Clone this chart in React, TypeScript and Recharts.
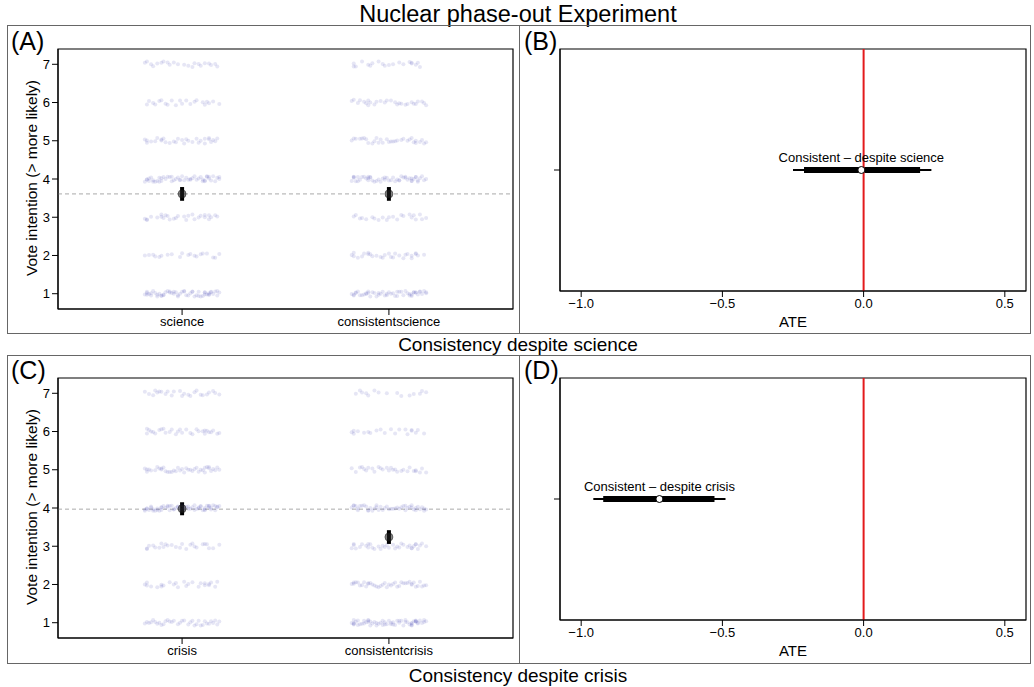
import React from "react";
import {
	ScatterChart,
	Scatter,
	XAxis,
	YAxis,
	ErrorBar,
	ReferenceLine,
	ReferenceArea,
	LabelList,
} from "recharts";

// response levels on the 1..7 vote-intention scale
const LEVELS = [1, 2, 3, 4, 5, 6, 7];

// respondents per level (1..7) for each treatment arm
const SCIENCE_COUNTS = [55, 20, 28, 50, 30, 22, 22];
const CONSISTENT_SCIENCE_COUNTS = [50, 28, 22, 50, 32, 28, 20];
const CRISIS_COUNTS = [35, 25, 25, 60, 40, 30, 25];
const CONSISTENT_CRISIS_COUNTS = [60, 40, 35, 45, 28, 20, 15];

const SCIENCE_LABELS = ["science", "consistentscience"];
const CRISIS_LABELS = ["crisis", "consistentcrisis"];

// group means with 95% intervals
const SCIENCE_MEANS = [3.61, 3.61];
const SCIENCE_LO = [3.43, 3.43];
const SCIENCE_HI = [3.79, 3.79];
const SCIENCE_GRAND = 3.61;

const CRISIS_MEANS = [3.98, 3.24];
const CRISIS_LO = [3.81, 3.06];
const CRISIS_HI = [4.15, 3.42];
const CRISIS_GRAND = 3.97;

// average treatment effects
const ATE_SCIENCE = { name: "Consistent \u2013 despite science", est: -0.008, lo90: -0.211, hi90: 0.2, lo95: -0.25, hi95: 0.24 };
const ATE_CRISIS = { name: "Consistent \u2013 despite crisis", est: -0.723, lo90: -0.922, hi90: -0.528, lo95: -0.957, hi95: -0.489 };

const ATE_TICKS = [-1, -0.5, 0, 0.5];

// fixed jitter offsets (category units / scale units)
const JITTER_X = [
	-0.17, 0.05, -0.09, 0.14, -0.02, 0.11, -0.15, 0.08, -0.06, 0.17, -0.12, 0.01, 0.13, -0.04,
	0.09, -0.18, 0.03, -0.1, 0.16, -0.07, 0.06, -0.14, 0.12, -0.01, 0.18, -0.11, 0.04, -0.16,
	0.1, -0.05, 0.15, -0.13, 0.0, 0.07, -0.08, 0.02, -0.03, 0.13, -0.17, 0.11, -0.1,
];
const JITTER_Y = [
	0.02, -0.05, 0.06, -0.01, 0.04, -0.07, 0.0, 0.05, -0.03, 0.07, -0.06, 0.01, -0.02, 0.03,
	-0.04, 0.06, -0.07, 0.02, 0.05, -0.05, 0.0, 0.04, -0.03, 0.07, -0.01, 0.03, -0.06, 0.01,
	-0.04, 0.05, -0.02,
];

const FONT = "'Liberation Sans', Arial, Helvetica, sans-serif";

function buildPoints(counts: number[][]) {
	const pts: { x: number; y: number }[] = [];
	let idx = 0;
	counts.forEach((row, g) => {
		row.forEach((n, li) => {
			for (let k = 0; k < n; k++) {
				pts.push({
					x: g + 1 + JITTER_X[idx % JITTER_X.length],
					y: LEVELS[li] + JITTER_Y[(idx * 7 + g * 5) % JITTER_Y.length],
				});
				idx++;
			}
		});
	});
	return pts;
}

const dot = (p: any) => (
	<circle cx={p.cx} cy={p.cy} r={2} fill="#4b4bb8" fillOpacity={0.14} />
);
// semi-transparent so the interval bar underneath reads through
const meanDot = (p: any) => (
	<circle cx={p.cx} cy={p.cy} r={4} fill="#222" fillOpacity={0.55} stroke="#111" strokeOpacity={0.5} strokeWidth={1} />
);
const ateDot = (p: any) => (
	<circle cx={p.cx} cy={p.cy} r={3.5} fill="#fff" stroke="#000" strokeWidth={1} />
);
const noDot = () => <g />;

const ateLabel = (p: any) => (
	<text
		x={p.x + p.width / 2}
		y={p.y - 3}
		textAnchor="middle"
		fontSize={13}
		fill="#000"
		fontFamily={FONT}
	>
		{p.value}
	</text>
);

type GroupProps = {
	left: number;
	top: number;
	counts: number[][];
	labels: string[];
	means: number[];
	lo: number[];
	hi: number[];
	grand: number;
};

function GroupPanel({ left, top, counts, labels, means, lo, hi, grand }: GroupProps) {
	const points = buildPoints(counts);
	const meanData = means.map((m, i) => ({ x: i + 1, y: m, err: [m - lo[i], hi[i] - m] }));
	return (
		<div style={{ position: "absolute", left, top }}>
			<ScatterChart width={510} height={308} margin={{ top: 23, right: 5, bottom: 0, left: 0 }}>
				<XAxis
					type="number"
					dataKey="x"
					domain={[0.4, 2.6]}
					ticks={[1, 2]}
					interval={0}
					tickFormatter={(v) => labels[v - 1]}
					height={25}
					stroke="#000"
					tick={{ fill: "#000", fontSize: 13 }}
					allowDataOverflow
				/>
				<YAxis
					type="number"
					dataKey="y"
					domain={[0.6, 7.4]}
					ticks={LEVELS}
					interval={0}
					width={50}
					stroke="#000"
					tick={{ fill: "#000", fontSize: 13 }}
					allowDataOverflow
				/>
				<ReferenceArea x1={0.4} x2={2.6} y1={0.6} y2={7.4} fill="none" stroke="#000" strokeWidth={1.2} ifOverflow="visible" />
				<Scatter data={points} shape={dot} isAnimationActive={false} />
				<ReferenceLine y={grand} stroke="#aaa" strokeDasharray="4 3" />
				<Scatter data={meanData} shape={meanDot} isAnimationActive={false}>
					<ErrorBar dataKey="err" direction="y" width={0} stroke="#000" strokeWidth={4} />
				</Scatter>
			</ScatterChart>
		</div>
	);
}

type AteProps = {
	left: number;
	top: number;
	ate: typeof ATE_SCIENCE;
};

function AtePanel({ left, top, ate }: AteProps) {
	const row = {
		x: ate.est,
		y: 1,
		name: ate.name,
		e95: [ate.est - ate.lo95, ate.hi95 - ate.est],
		e90: [ate.est - ate.lo90, ate.hi90 - ate.est],
	};
	return (
		<div style={{ position: "absolute", left, top }}>
			<ScatterChart width={510} height={308} margin={{ top: 23, right: 4, bottom: 0, left: 0 }}>
				<XAxis
					type="number"
					dataKey="x"
					domain={[-1.075, 0.575]}
					ticks={ATE_TICKS}
					interval={0}
					tickFormatter={(v) => v.toFixed(1).replace("-", "\u2212")}
					height={43}
					stroke="#000"
					tick={{ fill: "#000", fontSize: 13 }}
					allowDataOverflow
				/>
				<YAxis
					type="number"
					dataKey="y"
					domain={[0, 2]}
					ticks={[1]}
					tickFormatter={() => ""}
					width={40}
					stroke="#000"
					allowDataOverflow
				/>
				<ReferenceArea x1={-1.075} x2={0.575} y1={0} y2={2} fill="none" stroke="#000" strokeWidth={1.2} ifOverflow="visible" />
				<Scatter data={[row]} shape={noDot} isAnimationActive={false}>
					<ErrorBar dataKey="e95" direction="x" width={0} stroke="#000" strokeWidth={2} />
					<ErrorBar dataKey="e90" direction="x" width={0} stroke="#000" strokeWidth={6} />
				</Scatter>
				<Scatter data={[row]} shape={ateDot} isAnimationActive={false}>
					<LabelList dataKey="name" content={ateLabel} />
				</Scatter>
				<ReferenceLine x={0} stroke="#e31a1c" strokeWidth={2} />
			</ScatterChart>
		</div>
	);
}

const text = (s: React.CSSProperties): React.CSSProperties => ({
	position: "absolute",
	whiteSpace: "nowrap",
	color: "#000",
	lineHeight: 1,
	...s,
});

function YLabel({ cy }: { cy: number }) {
	return (
		<div
			style={text({
				left: 32,
				top: cy,
				fontSize: 15.5,
				transform: "translate(-50%, -50%) rotate(-90deg)",
			})}
		>
			Vote intention (&gt; more likely)
		</div>
	);
}

export default function App() {
	const box = (l: number, t: number, w: number, h: number): React.CSSProperties => ({
		position: "absolute",
		left: l,
		top: t,
		width: w,
		height: h,
		border: "1px solid #666",
		boxSizing: "border-box",
	});
	return (
		<div
			style={{
				position: "absolute",
				left: 0,
				top: 0,
				width: 1034,
				height: 687,
				background: "#fff",
				fontFamily: FONT,
				overflow: "hidden",
			}}
		>
			<div style={text({ left: 518, top: 3, fontSize: 23.5, transform: "translateX(-50%)" })}>
				Nuclear phase-out Experiment
			</div>
			<div style={box(7, 25, 513, 309)} />
			<div style={box(519, 25, 512, 309)} />
			<div style={text({ left: 518, top: 335, fontSize: 19, transform: "translateX(-50%)" })}>
				Consistency despite science
			</div>
			<div style={box(7, 355, 513, 309)} />
			<div style={box(519, 355, 512, 309)} />
			<div style={text({ left: 518, top: 666, fontSize: 19, transform: "translateX(-50%)" })}>
				Consistency despite crisis
			</div>

			<GroupPanel
				left={8}
				top={26}
				counts={[SCIENCE_COUNTS, CONSISTENT_SCIENCE_COUNTS]}
				labels={SCIENCE_LABELS}
				means={SCIENCE_MEANS}
				lo={SCIENCE_LO}
				hi={SCIENCE_HI}
				grand={SCIENCE_GRAND}
			/>
			<AtePanel left={520} top={26} ate={ATE_SCIENCE} />
			<GroupPanel
				left={8}
				top={355}
				counts={[CRISIS_COUNTS, CONSISTENT_CRISIS_COUNTS]}
				labels={CRISIS_LABELS}
				means={CRISIS_MEANS}
				lo={CRISIS_LO}
				hi={CRISIS_HI}
				grand={CRISIS_GRAND}
			/>
			<AtePanel left={520} top={355} ate={ATE_CRISIS} />

			<YLabel cy={178} />
			<YLabel cy={507} />
			<div style={text({ left: 793, top: 314, fontSize: 15, transform: "translateX(-50%)" })}>ATE</div>
			<div style={text({ left: 793, top: 643, fontSize: 15, transform: "translateX(-50%)" })}>ATE</div>

			<div style={text({ left: 11, top: 29, fontSize: 25 })}>(A)</div>
			<div style={text({ left: 524, top: 29, fontSize: 25 })}>(B)</div>
			<div style={text({ left: 11, top: 358, fontSize: 25 })}>(C)</div>
			<div style={text({ left: 524, top: 358, fontSize: 25 })}>(D)</div>
		</div>
	);
}
